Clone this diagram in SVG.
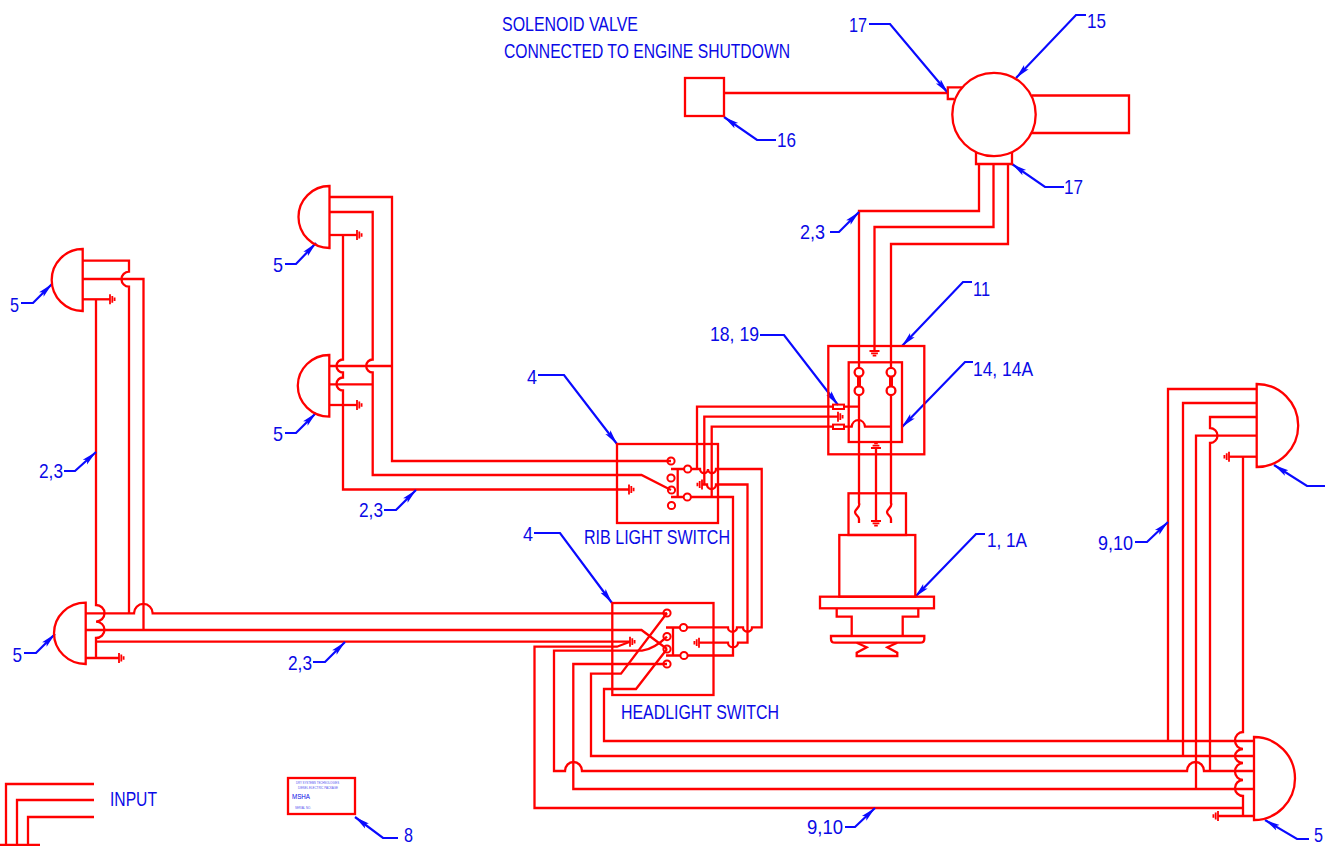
<svg xmlns="http://www.w3.org/2000/svg" width="1325" height="846" viewBox="0 0 1325 846">
<style>
.r{fill:none;stroke:#ff0000;stroke-width:2.3;stroke-linejoin:miter}
.t{fill:none;stroke:#ff0000;stroke-width:2}
.g{fill:none;stroke:#ff0000;stroke-width:1.8}
.b{fill:none;stroke:#0a0aff;stroke-width:2.2}
text{font-family:"Liberation Sans",Arial,sans-serif;fill:#0a0ae6;font-size:21px}
.s{font-size:3.6px;fill:#5050f0}
</style>
<defs>
<marker id="arr" markerUnits="userSpaceOnUse" markerWidth="16" markerHeight="10" refX="15" refY="5" orient="auto" viewBox="0 0 16 10">
<path d="M0,1.800 L15,5 L0,8.200 L3,5 Z" fill="#0a0aff"/>
</marker>
<g id="gr"><path class="g" d="M0,-5V5M2.300,-3.400V3.400M4.600,-1.800V1.800"/></g>
<g id="gl"><path class="g" d="M0,-5V5M-2.300,-3.400V3.400M-4.600,-1.800V1.800"/></g>
<g id="gd"><path class="g" d="M-5,0H5M-3.400,2.300H3.400M-1.800,4.600H1.800"/></g>
<g id="gu"><path class="g" d="M-5,0H5M-3.400,-2.300H3.400M-1.800,-4.600H1.800"/></g>
</defs>

<g id="connectors">
<path class="r" d="M724,93H948"/>
<path class="r" d="M979,164V211H859V367M859,396V503C861,507 855,509 855,512C855,515 859,516 859,519V523"/>
<path class="r" d="M993.5,164V227H874.5V351"/>
<path class="r" d="M1008,164V244H891V367M891,396V503C893,507 887,509 887,512C887,515 891,516 891,519V523"/>
<path class="r" d="M876,447V521"/>
<path class="r" d="M697,469V406.7H833M844,406.7H859"/>
<path class="r" d="M704.3,484.5V416.7H838"/>
<path class="r" d="M711.700,497V426.7H833M844,426.7H851.700A6.7 7.4 0 0 1 865,426.7H891"/>
<path class="r" d="M691,469H700A4 4 0 0 0 708,469A4 4 0 0 0 716,469H761.7V627.4H752A4.5 4.2 0 0 1 743,627.4H737A4.3 4.2 0 0 1 728,627.4H687"/>
<path class="r" d="M702,484.5H707A4.5 4.5 0 0 0 716,484.5H747.5V642.7H738A5 4.5 0 0 1 728,642.7H699"/>
<path class="r" d="M691,497H733V655.5H688"/>
<path class="r" d="M85.7,613.3H134A9.3 9.3 0 0 1 152.7,613.3H667"/>
<path class="r" d="M85.7,630H641.5L667,649"/>
<path class="r" d="M96,641.7H630"/>
<path class="r" d="M96,299.3V605A8.5 8.3 0 0 1 96,621.6A8.5 8.2 0 0 1 96,638V658"/>
<path class="r" d="M85.7,658H119"/>
<path class="r" d="M82.7,260.7H129V271.7A7.5 7.5 0 0 0 129,286.7V613.3"/>
<path class="r" d="M82.7,279H143.5V630"/>
<path class="r" d="M82.7,299.3H110"/>
<path class="r" d="M329.5,197H392V461H671"/>
<path class="r" d="M329.5,212H372.7V359.5A6.5 6.5 0 0 0 372.7,372.5V475H641.5L671,490"/>
<path class="r" d="M329.5,235H357"/>
<path class="r" d="M343,235V359.5A6.5 6.5 0 0 0 343,372.5V377.5A6.5 6.5 0 0 0 343,390.5V489.5H629"/>
<path class="r" d="M329.5,366H392"/>
<path class="r" d="M329.5,384.3H372.7"/>
<path class="r" d="M329.5,405H357"/>
<path class="r" d="M1254,741H604V689H636L667,649"/>
<path class="r" d="M1254,756H591V673.7H621L667,613"/>
<path class="r" d="M1254,771H1204A8.5 9 0 0 0 1187,771H582A8.5 9 0 0 0 565,771H554V650.7H642Q654,649 667,636.6"/>
<path class="r" d="M1254,789H573.3V664H667"/>
<path class="r" d="M1243,808H534.5V646.7H617L630,641.7"/>
<path class="r" d="M1254,816H1218"/>
<path class="r" d="M1243,457V732A8 8.5 0 0 0 1243,749A8 7 0 0 0 1243,763A8 8.500 0 0 0 1243,780A8 8 0 0 0 1243,796V816"/>
<path class="r" d="M1257,389H1168V741"/>
<path class="r" d="M1257,403H1183V756"/>
<path class="r" d="M1257,417H1210V428A7.5 7.5 0 0 1 1210,443V771"/>
<path class="r" d="M1257,435.7H1196V789"/>
<path class="r" d="M1257,456.7H1229"/>
<use href="#gd" x="874.5" y="351"/>
<use href="#gu" x="876" y="448"/>
<use href="#gd" x="876" y="521"/>
<use href="#gr" x="838" y="416.7"/>
<use href="#gl" x="702" y="484.5"/>
<use href="#gl" x="699" y="642.7"/>
<use href="#gr" x="630" y="641.7"/>
<use href="#gr" x="629" y="489.5"/>
<use href="#gr" x="119" y="658"/>
<use href="#gr" x="110" y="299.3"/>
<use href="#gr" x="357" y="235"/>
<use href="#gr" x="357" y="405"/>
<use href="#gl" x="1218" y="816"/>
<use href="#gl" x="1229" y="456.7"/>
</g>

<g id="leaders">
<path class="b" marker-end="url(#arr)" d="M869,24H890L948,93"/>
<path class="b" marker-end="url(#arr)" d="M1086,15H1076L1016,78"/>
<path class="b" marker-end="url(#arr)" d="M776,140H757L724,117"/>
<path class="b" marker-end="url(#arr)" d="M1064,187H1045L1012,164"/>
<path class="b" marker-end="url(#arr)" d="M830,232H839L859,212"/>
<path class="b" marker-end="url(#arr)" d="M972,282H963L902,346"/>
<path class="b" marker-end="url(#arr)" d="M760,335H784L838,405"/>
<path class="b" marker-end="url(#arr)" d="M973,362H965L902,427"/>
<path class="b" marker-end="url(#arr)" d="M985,534H976L915,597"/>
<path class="b" marker-end="url(#arr)" d="M538,375H564L617,444"/>
<path class="b" marker-end="url(#arr)" d="M534,533H560L612,603"/>
<path class="b" marker-end="url(#arr)" d="M285,264H296L316,243"/>
<path class="b" marker-end="url(#arr)" d="M285,433H296L316,413"/>
<path class="b" marker-end="url(#arr)" d="M21,303H33L52,284"/>
<path class="b" marker-end="url(#arr)" d="M24,653H36L55,634"/>
<path class="b" marker-end="url(#arr)" d="M64,471H75L96,452"/>
<path class="b" marker-end="url(#arr)" d="M384,510H396L416,490"/>
<path class="b" marker-end="url(#arr)" d="M313,662H325L345,642"/>
<path class="b" marker-end="url(#arr)" d="M1135,542H1147L1168,522"/>
<path class="b" marker-end="url(#arr)" d="M845,827H855L875,808"/>
<path class="b" marker-end="url(#arr)" d="M1309,839H1297L1265,820"/>
<path class="b" marker-end="url(#arr)" d="M1325,486H1307L1274,465"/>
<path class="b" marker-end="url(#arr)" d="M398,838H383L355,817"/>
</g>

<g id="solenoid-label">
<text x="502" y="31" textLength="136" lengthAdjust="spacingAndGlyphs">SOLENOID VALVE</text>
<text x="504" y="58" textLength="286" lengthAdjust="spacingAndGlyphs">CONNECTED TO ENGINE SHUTDOWN</text>
</g>
<g id="node-16">
<rect class="r" x="685" y="78" width="39" height="38"/>
<text x="777" y="147" textLength="19" lengthAdjust="spacingAndGlyphs">16</text>
</g>
<g id="node-15">
<path class="r" d="M1032,95.5H1129V133H1032"/>
<circle class="r" cx="994" cy="114.5" r="41.7"/>
<path class="r" d="M962,87.3H947.8V99H954"/>
<path class="r" d="M976,152V164H1012V152"/>
<text x="849" y="32" textLength="18" lengthAdjust="spacingAndGlyphs">17</text>
<text x="1087" y="28" textLength="19" lengthAdjust="spacingAndGlyphs">15</text>
<text x="1064" y="194" textLength="19" lengthAdjust="spacingAndGlyphs">17</text>
<text x="800" y="239" textLength="25" lengthAdjust="spacingAndGlyphs">2,3</text>
</g>
<g id="node-11">
<rect class="r" x="828.3" y="346" width="96" height="108.3"/>
<rect class="r" x="848.7" y="362.3" width="53.3" height="79.7"/>
<rect class="t" x="833" y="404.6" width="11" height="4.4"/>
<rect class="t" x="833" y="424.6" width="11" height="4.4"/>
<path d="M859,372V391M891,372V391" fill="none" stroke="#ff0000" stroke-width="4"/>
<circle class="r" cx="859" cy="372.3" r="4.4" style="fill:#fff"/>
<circle class="r" cx="859" cy="390.7" r="4.4" style="fill:#fff"/>
<circle class="r" cx="891" cy="372.3" r="4.4" style="fill:#fff"/>
<circle class="r" cx="891" cy="390.7" r="4.4" style="fill:#fff"/>
<text x="973" y="296" textLength="17" lengthAdjust="spacingAndGlyphs">11</text>
<text x="710" y="341" textLength="49" lengthAdjust="spacingAndGlyphs">18, 19</text>
<text x="973" y="376" textLength="60" lengthAdjust="spacingAndGlyphs">14, 14A</text>
</g>
<g id="node-1">
<rect class="r" x="848.5" y="493.3" width="57.5" height="41.7"/>
<rect class="r" x="839.3" y="535" width="76" height="61.7"/>
<rect class="r" x="820" y="596.7" width="114" height="11.6"/>
<path class="r" d="M836.7,608.3V616.7H851.7V636M918.3,608.3V616.7H902.7V636"/>
<path class="r" d="M831,636H924.3V639Q924.3,642.7 920,642.7H835Q831,642.7 831,639Z"/>
<path class="r" d="M856.7,642.7L866.7,647.3L856.7,652.7V656H897.3V652.7L887.3,647.3L897.3,642.7"/>
<text x="987" y="547" textLength="40" lengthAdjust="spacingAndGlyphs">1, 1A</text>
</g>
<g id="rib-switch">
<rect class="r" x="617" y="444" width="101" height="79"/>
<circle class="t" cx="671" cy="461" r="3.6"/>
<circle class="t" cx="671" cy="478" r="3.6"/>
<circle class="t" cx="671.5" cy="490" r="3.6"/>
<circle class="t" cx="671.5" cy="505.5" r="3.6"/>
<circle class="t" cx="687.7" cy="469" r="3.6"/>
<circle class="t" cx="687.3" cy="497" r="3.6"/>
<path class="r" d="M671,469H684M677.7,469V497M671,497H684"/>
<text x="527" y="384" textLength="10" lengthAdjust="spacingAndGlyphs">4</text>
<text x="584" y="544" textLength="146" lengthAdjust="spacingAndGlyphs">RIB LIGHT SWITCH</text>
</g>
<g id="headlight-switch">
<rect class="r" x="612.3" y="603" width="101.2" height="92"/>
<circle class="t" cx="667" cy="613" r="3.6"/>
<circle class="t" cx="667" cy="636.6" r="3.6"/>
<circle class="t" cx="667" cy="649" r="3.6"/>
<circle class="t" cx="667" cy="664" r="3.6"/>
<circle class="t" cx="683.5" cy="627.5" r="3.6"/>
<circle class="t" cx="684" cy="655.5" r="3.6"/>
<path class="r" d="M666,627.5H680M673,627.5V655.5M666,655.5H680"/>
<text x="523" y="541" textLength="10" lengthAdjust="spacingAndGlyphs">4</text>
<text x="621" y="719" textLength="158" lengthAdjust="spacingAndGlyphs">HEADLIGHT SWITCH</text>
</g>
<g id="lamp-left-top">
<path class="r" d="M82.7,249A31 31 0 0 0 82.7,311Z"/>
<text x="10" y="312" textLength="9" lengthAdjust="spacingAndGlyphs">5</text>
<text x="39" y="478" textLength="24" lengthAdjust="spacingAndGlyphs">2,3</text>
</g>
<g id="lamp-left-bottom">
<path class="r" d="M85.7,602.7A31.7 30.65 0 0 0 85.7,664Z"/>
<text x="12.500" y="662" textLength="9.500" lengthAdjust="spacingAndGlyphs">5</text>
<text x="288" y="670" textLength="24" lengthAdjust="spacingAndGlyphs">2,3</text>
</g>
<g id="lamp-mid-top">
<path class="r" d="M329.5,186A31 31 0 0 0 329.5,248Z"/>
<text x="273" y="272" textLength="10" lengthAdjust="spacingAndGlyphs">5</text>
</g>
<g id="lamp-mid-bottom">
<path class="r" d="M329.3,355A31.500 30.85 0 0 0 329.3,416.7Z"/>
<text x="273" y="441" textLength="10" lengthAdjust="spacingAndGlyphs">5</text>
<text x="359" y="517" textLength="24" lengthAdjust="spacingAndGlyphs">2,3</text>
</g>
<g id="lamp-right-top">
<path class="r" d="M1256.700,384A41.500 41.500 0 0 1 1256.700,467Z"/>
<text x="1098" y="550" textLength="35" lengthAdjust="spacingAndGlyphs">9,10</text>
</g>
<g id="lamp-right-bottom">
<path class="r" d="M1254,737A41 41.500 0 0 1 1254,820Z"/>
<text x="1314" y="842" textLength="9" lengthAdjust="spacingAndGlyphs" style="font-size:20px">5</text>
<text x="807" y="834" textLength="36" lengthAdjust="spacingAndGlyphs">9,10</text>
</g>
<g id="input-legend">
<path class="r" d="M94,784H6V846M94,800H17V846M94,817H28V846M0,845H40"/>
<text x="110" y="806" textLength="47" lengthAdjust="spacingAndGlyphs">INPUT</text>
</g>
<g id="node-8">
<rect class="r" x="288" y="778" width="67" height="36"/>
<text class="s" x="296" y="783.500" textLength="43" lengthAdjust="spacingAndGlyphs">DRY SYSTEMS TECHNOLOGIES</text>
<text class="s" x="298" y="788.500" textLength="40" lengthAdjust="spacingAndGlyphs">DIESEL ELECTRIC PACKAGE</text>
<text x="292" y="799" textLength="18" lengthAdjust="spacingAndGlyphs" style="font-size:7px">MSHA</text>
<text class="s" x="295" y="809" textLength="16" lengthAdjust="spacingAndGlyphs">SERIAL NO.</text>
<text x="404" y="842" textLength="9" lengthAdjust="spacingAndGlyphs" style="font-size:20px">8</text>
</g>
</svg>
